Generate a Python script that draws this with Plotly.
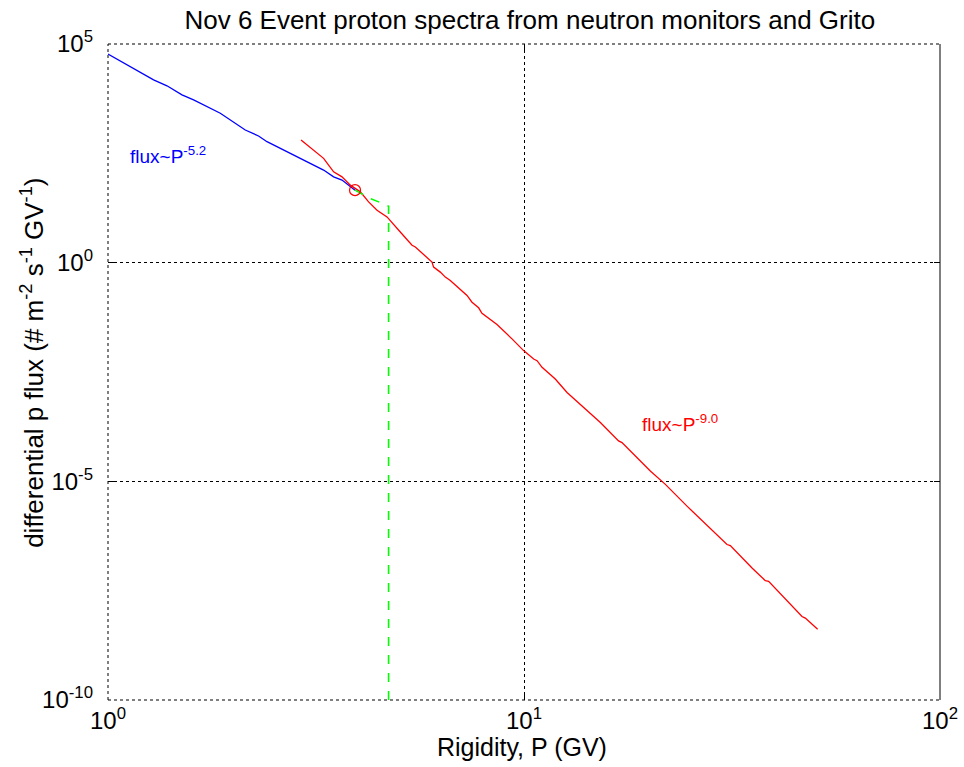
import plotly.graph_objects as go

# ---- data (rigidity P in GV, flux in # m^-2 s^-1 GV^-1) ----
blue_P = [1.000, 1.287, 1.386, 1.506, 1.606, 1.862, 2.138, 2.301, 2.411, 2.643,
          2.927, 3.120, 3.298, 3.486, 3.652, 3.925]
blue_logF = [4.771, 4.181, 4.044, 3.837, 3.722, 3.417, 3.034, 2.897, 2.766, 2.576,
             2.346, 2.232, 2.117, 1.963, 1.888, 1.658]

red_P = [2.911, 3.120, 3.298, 3.486, 3.652, 3.824, 4.042, 4.231, 4.433, 4.685,
         4.905, 5.042, 5.381, 5.480, 6.009, 6.063, 6.292, 6.469, 6.650, 7.295,
         7.499, 7.779, 7.925, 8.612, 9.358, 9.978, 10.55, 10.75, 11.05, 11.89,
         12.69, 13.91, 15.26, 16.88, 17.20, 20.12, 21.87, 24.65, 26.79, 28.31,
         30.76, 31.33, 35.33, 38.03, 38.73, 46.59, 47.45, 50.80]
red_logF = [2.805, 2.576, 2.385, 2.078, 1.963, 1.773, 1.619, 1.390, 1.200, 1.046,
            0.817, 0.702, 0.397, 0.358, 0.014, -0.101, -0.216, -0.330, -0.406, -0.750,
            -0.904, -1.032, -1.156, -1.415, -1.743, -2.011, -2.202, -2.241, -2.394, -2.661,
            -2.968, -3.312, -3.656, -4.076, -4.115, -4.764, -5.069, -5.567, -5.894, -6.101,
            -6.445, -6.468, -6.982, -7.271, -7.287, -8.090, -8.128, -8.381]

green_P = [3.925, 4.271, 4.472, 4.726, 4.726]
green_logF = [1.658, 1.468, 1.390, 1.291, -10.0]

knee_P = [3.925]
knee_logF = [1.658]

x_tickvals = [1, 10, 100]
x_ticktext = ["10<sup>0</sup>", "10<sup>1</sup>", "10<sup>2</sup>"]
y_tickvals = [1e-10, 1e-5, 1e0, 1e5]
y_ticktext = ["10<sup>-10</sup>", "10<sup>-5</sup>", "10<sup>0</sup>", "10<sup>5</sup>"]

title_text = "Nov 6 Event proton spectra from neutron monitors and Grito"
x_title = "Rigidity, P (GV)"
y_title = "differential p flux (# m<sup>-2</sup> s<sup>-1</sup> GV<sup>-1</sup>)"
blue_label = "flux~P<sup>-5.2</sup>"
red_label = "flux~P<sup>-9.0</sup>"

FONT = "Liberation Sans, Arial, sans-serif"

def tolin(v):
    return [10 ** a for a in v]

fig = go.Figure()
fig.add_trace(go.Scatter(x=blue_P, y=tolin(blue_logF), mode="lines",
                         line=dict(color="#0000ff", width=1.3), showlegend=False))
fig.add_trace(go.Scatter(x=red_P, y=tolin(red_logF), mode="lines",
                         line=dict(color="#ff0000", width=1.3), showlegend=False))
fig.add_trace(go.Scatter(x=green_P, y=tolin(green_logF), mode="lines",
                         line=dict(color="#00ff00", width=1.6, dash="dash"), showlegend=False))
fig.add_trace(go.Scatter(x=knee_P, y=tolin(knee_logF), mode="markers",
                         marker=dict(symbol="circle-open", size=11, color="#ff0000",
                                     line=dict(width=1.2, color="#ff0000")),
                         showlegend=False))

axis_common = dict(
    showgrid=True, gridcolor="black", griddash="dot", gridwidth=1,
    showline=False, zeroline=False, automargin=False,
    ticks="inside", ticklen=6, tickcolor="black", mirror="ticks",
    tickfont=dict(family=FONT, size=24, color="black"),
)

frame = dict(color="black", width=1, dash="dot")

fig.update_layout(
    width=964, height=767,
    margin=dict(l=108, r=24, t=44, b=67),
    paper_bgcolor="white", plot_bgcolor="white",
    font=dict(family=FONT, color="black"),
    title=dict(text=title_text, x=0.507, xanchor="center", xref="paper",
               y=0.974, yanchor="middle", yref="container",
               font=dict(family=FONT, size=26, color="black")),
    xaxis=dict(type="log", range=[0, 2], tickvals=x_tickvals, ticktext=x_ticktext,
               ticklabelstandoff=4, **axis_common),
    yaxis=dict(type="log", range=[-10, 5], tickvals=y_tickvals, ticktext=y_ticktext,
               ticklabelstandoff=14, **axis_common),
    annotations=[
        dict(x=0.0488, y=2.461, xref="x", yref="y", text=blue_label, showarrow=False,
             xanchor="left", yanchor="middle", font=dict(family=FONT, size=19, color="#0000ff")),
        dict(x=1.2796, y=-3.663, xref="x", yref="y", text=red_label, showarrow=False,
             xanchor="left", yanchor="middle", font=dict(family=FONT, size=19, color="#ff0000")),
        dict(x=0.4976, y=-0.0716, xref="paper", yref="paper", text=x_title, showarrow=False,
             xanchor="center", yanchor="middle", font=dict(family=FONT, size=25, color="black")),
        dict(x=-0.0901, y=0.514, xref="paper", yref="paper", text=y_title, showarrow=False,
             textangle=-90, xanchor="center", yanchor="middle",
             font=dict(family=FONT, size=26, color="black")),
    ],
    shapes=[
        dict(type="line", xref="paper", yref="paper", x0=1, x1=1, y0=0, y1=1,
             line=dict(color="black", width=1)),
        dict(type="line", xref="paper", yref="paper", x0=0, x1=0, y0=0, y1=1, line=frame),
        dict(type="line", xref="paper", yref="paper", x0=0, x1=1, y0=0, y1=0, line=frame),
        dict(type="line", xref="paper", yref="paper", x0=0, x1=1, y0=1, y1=1, line=frame),
    ],
)

fig.write_html("out.html")
